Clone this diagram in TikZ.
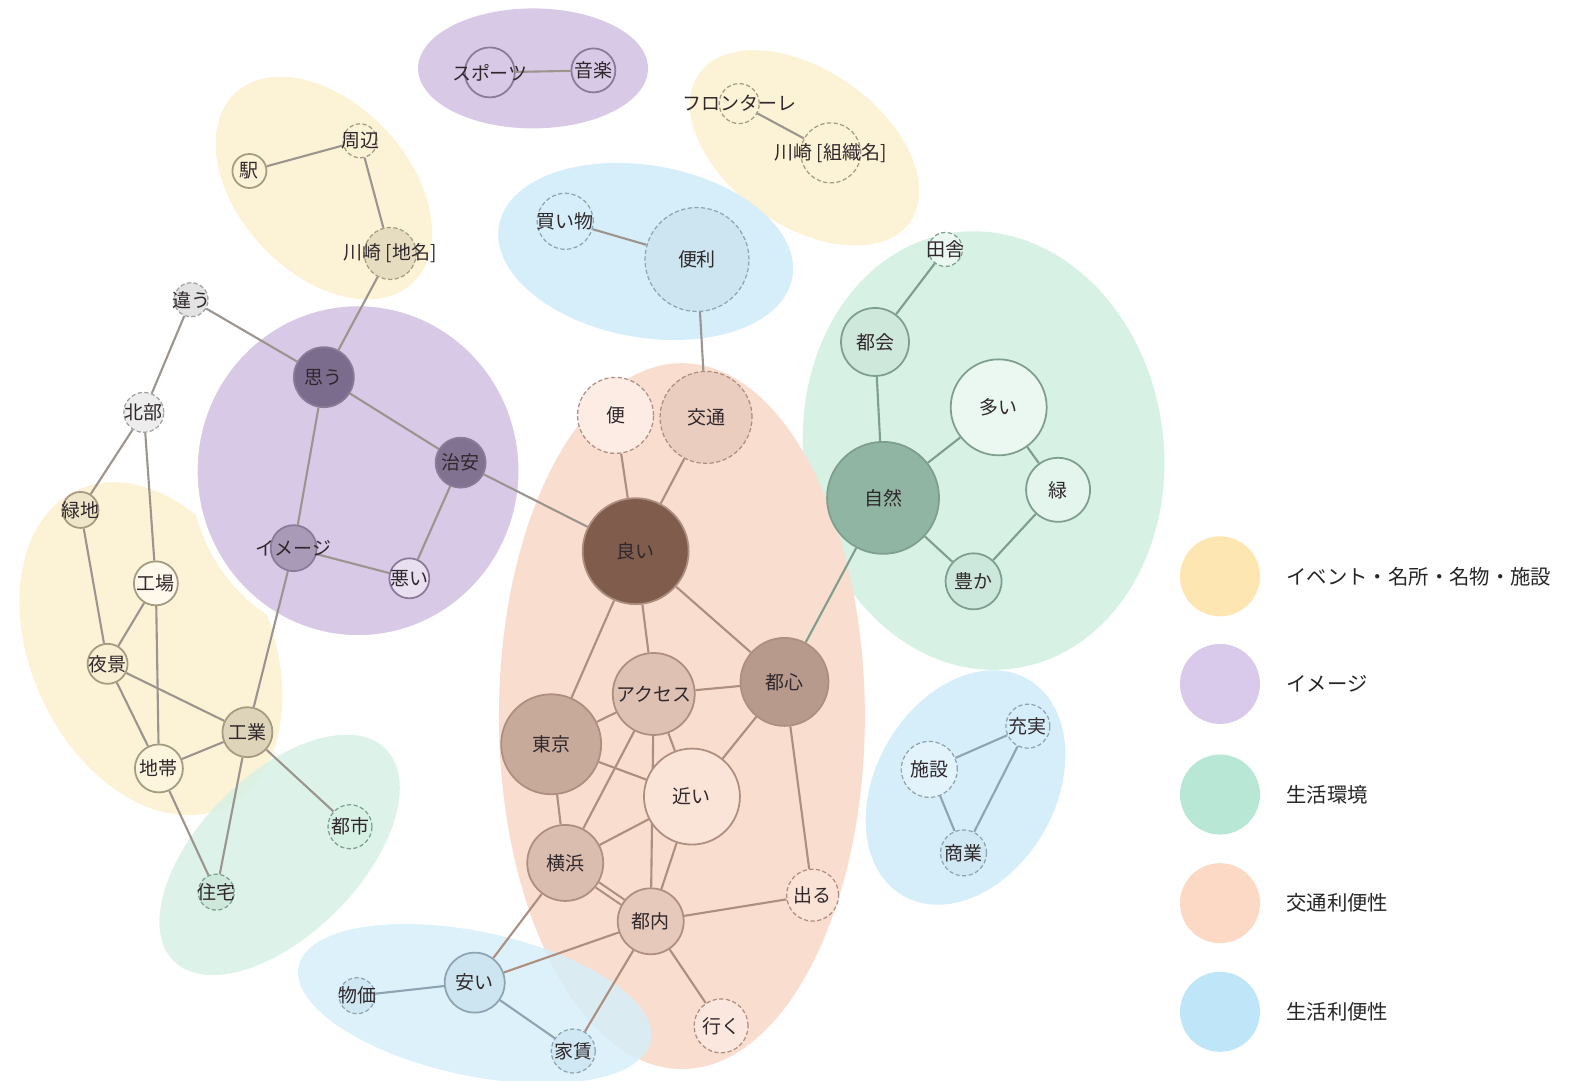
\documentclass[tikz,border=0pt]{standalone}
\usepackage{fontspec}
\setmainfont{Noto Sans CJK JP}
\usetikzlibrary{positioning}

\definecolor{blobY}{HTML}{FCF3D6}
\definecolor{blobP}{HTML}{D8CAE6}
\definecolor{blobG}{HTML}{D7F1E5}
\definecolor{blobO}{HTML}{F9DDCE}
\definecolor{blobB}{HTML}{D6EEF9}
\definecolor{legY}{HTML}{FDE6B2}
\definecolor{legP}{HTML}{D9C9EA}
\definecolor{legG}{HTML}{B8E8D5}
\definecolor{legO}{HTML}{FBD9C4}
\definecolor{legB}{HTML}{BEE6F8}
\definecolor{lineY}{HTML}{A59A82}
\definecolor{lineP}{HTML}{8A7B98}
\definecolor{lineG}{HTML}{7E9E8E}
\definecolor{lineO}{HTML}{AD8E80}
\definecolor{lineB}{HTML}{8EA4B2}
\definecolor{lineN}{HTML}{A0A0A0}
\definecolor{linkgray}{HTML}{9C948E}
\definecolor{kwink}{HTML}{30282C}
\definecolor{darkP}{HTML}{7B6B8C}
\definecolor{darkO}{HTML}{7F5C4C}
\definecolor{darkG}{HTML}{90B6A3}

\newcommand\kwfont{\fontsize{5.4pt}{6pt}\selectfont}
\newcommand\legfont{\fontsize{5.8pt}{7pt}\selectfont}

\pgfdeclarelayer{blobs}
\pgfdeclarelayer{links}
\pgfsetlayers{blobs,links,main}

\tikzset{
  kw/.style={circle, inner sep=0pt, line width=0.5pt,
    label={[font=\kwfont, text=kwink, inner sep=0pt]center:{#1}}},
  kwY/.style={kw={#1}, draw=lineY},
  kwP/.style={kw={#1}, draw=lineP},
  kwG/.style={kw={#1}, draw=lineG},
  kwO/.style={kw={#1}, draw=lineO},
  kwB/.style={kw={#1}, draw=lineB},
  kwN/.style={kw={#1}, draw=lineN},
  dashy/.style={line width=0.35pt, dash pattern=on 1.2pt off 0.7pt},
  link/.style={draw=#1, line width=0.6pt},
  link/.default=linkgray,
  legdot/.style={circle, inner sep=0pt, minimum size=8mm},
  legtext/.style={font=\legfont, text=black!85, inner sep=0pt, anchor=west}
}

\begin{document}
\begin{tikzpicture}[x=0.1006mm, y=-0.1006mm]
  \useasboundingbox (0,0) rectangle (1568,1074);

  \begin{pgfonlayer}{blobs}
    \fill[blobP] (530,68) ellipse [x radius=11.5mm, y radius=6mm];
    \fill[blobY, rotate around={-47:(322,187)}] (322,187) ellipse [x radius=13mm, y radius=8.5mm];
    \fill[blobY, rotate around={-35:(800,147)}] (800,147) ellipse [x radius=12.9mm, y radius=7.8mm];
    \fill[blobB, rotate around={-10:(642,250)}] (642,250) ellipse [x radius=14.9mm, y radius=8.6mm];
    \fill[blobG, rotate around={8:(978,448)}] (978,448) ellipse [x radius=18mm, y radius=22mm];
    \fill[blobY, rotate around={115:(150,645)}] (150,645) ellipse [x radius=17.5mm, y radius=12mm];
    \fill[blobG, opacity=0.85, rotate around={45:(278,850)}] (278,850) ellipse [x radius=15mm, y radius=8mm];
    \filldraw[fill=blobP, draw=white, line width=2pt] (356,468) ellipse [x radius=16.4mm, y radius=16.8mm];
    \fill[blobO] (678,712) ellipse [x radius=18.3mm, y radius=35.3mm];
    \fill[blobB, rotate around={60:(960,783)}] (960,783) ellipse [x radius=12.5mm, y radius=9mm];
    \fill[blobB, opacity=0.85, rotate around={-12:(472,998)}] (472,998) ellipse [x radius=18mm, y radius=7.2mm];
  \end{pgfonlayer}

  \node[kwP=スポーツ, fill=blobP, minimum size=5mm] (sports) at (487,72) {};
  \node[kwP=音楽, fill=blobP, minimum size=4.4mm] (ongaku) at (590,70) {};

  \node[kwY=フロンターレ, fill=blobY, minimum size=4mm, dashy] (frontale) at (735,103) {};
  \node[kwY={川崎 [組織名]}, fill=blobY, minimum size=6mm, dashy] (kawasakiorg) at (826,152) {};

  \node[kwB=買い物, fill=blobB, minimum size=5.6mm, dashy] (kaimono) at (562,220) {};
  \node[kwB=便利, fill=blobB!88!lineB, minimum size=10.4mm, dashy] (benri) at (693,258) {};

  \node[kwY=駅, fill=blobY, minimum size=3.4mm] (eki) at (248,170) {};
  \node[kwY=周辺, fill=blobY, minimum size=3.4mm, dashy] (shuhen) at (358,140) {};
  \node[kwY={川崎 [地名]}, fill=blobY!75!lineY, minimum size=5.2mm, dashy] (kawasakichi) at (388,252) {};

  \node[kwN=違う, fill=black!11, minimum size=3.4mm, dashy] (chigau) at (190,298) {};
  \node[kwN=北部, fill=black!7, minimum size=4mm, dashy] (hokubu) at (143,410) {};

  \node[kwP=思う, fill=darkP, minimum size=6mm] (omou) at (322,375) {};
  \node[kwP=治安, fill=darkP!95!white, minimum size=5mm] (chian) at (458,460) {};
  \node[kwP=イメージ, fill=lineP!60!blobP, minimum size=4.6mm] (image) at (292,545) {};
  \node[kwP=悪い, fill=blobP!60!white, minimum size=4mm] (warui) at (407,575) {};

  \node[kwY=緑地, fill=blobY!85!lineY, minimum size=3.6mm] (ryokuchi) at (80,507) {};
  \node[kwY=工場, fill=blobY!50!white, minimum size=4.4mm] (kojo) at (155,580) {};
  \node[kwY=夜景, fill=blobY!95!lineY, minimum size=4mm] (yakei) at (107,660) {};
  \node[kwY=工業, fill=blobY!65!lineY, minimum size=5mm] (kogyo) at (246,728) {};
  \node[kwY=地帯, fill=blobY!80!white, minimum size=4.8mm] (chitai) at (158,764) {};

  \node[kwG=都市, fill=blobG, minimum size=4.4mm, dashy] (toshi) at (348,822) {};
  \node[kwG=住宅, fill=blobG!90!lineG, minimum size=3.6mm, dashy] (jutaku) at (215,887) {};

  \node[kwO=便, fill=blobO!55!white, minimum size=7.6mm, dashy] (ben) at (612,413) {};
  \node[kwO=交通, fill=blobO!80!lineO, minimum size=9.2mm, dashy] (kotsu) at (702,415) {};
  \node[kwO=良い, fill=darkO, minimum size=10.6mm] (yoi) at (632,548) {};
  \node[kwO=アクセス, fill=blobO!65!lineO, minimum size=8.2mm] (access) at (650,690) {};
  \node[kwO=都心, fill=lineO!85!blobO, minimum size=8.8mm] (toshin) at (780,678) {};
  \node[kwO=東京, fill=lineO!65!blobO, minimum size=10mm] (tokyo) at (548,740) {};
  \node[kwO=近い, fill=blobO!80!white, minimum size=9.6mm] (chikai) at (688,792) {};
  \node[kwO=横浜, fill=blobO!60!lineO, minimum size=7.6mm] (yokohama) at (562,858) {};
  \node[kwO=都内, fill=blobO!75!lineO, minimum size=6.6mm] (tonai) at (647,916) {};
  \node[kwO=出る, fill=blobO!85!white, minimum size=5.2mm, dashy] (deru) at (808,890) {};
  \node[kwO=行く, fill=blobO!70!white, minimum size=5.4mm, dashy] (iku) at (717,1020) {};

  \node[kwG=田舎, fill=blobG!50!white, minimum size=3.4mm, dashy] (inaka) at (940,248) {};
  \node[kwG=都会, fill=blobG!90!lineG, minimum size=6.8mm] (tokai) at (870,340) {};
  \node[kwG=多い, fill=blobG!50!white, minimum size=9.6mm] (ooi) at (993,405) {};
  \node[kwG=自然, fill=darkG, minimum size=11.2mm] (shizen) at (878,495) {};
  \node[kwG=緑, fill=blobG!70!white, minimum size=6.4mm] (midori) at (1052,487) {};
  \node[kwG=豊か, fill=blobG!88!lineG, minimum size=5.6mm] (yutaka) at (968,578) {};

  \node[kwB=施設, fill=blobB!70!white, minimum size=5.6mm, dashy] (shisetsu) at (924,765) {};
  \node[kwB=充実, fill=blobB, minimum size=4.4mm, dashy] (jujitsu) at (1022,722) {};
  \node[kwB=商業, fill=blobB!92!lineB, minimum size=4.6mm, dashy] (shogyo) at (958,848) {};

  \node[kwB=物価, fill=blobB!90!lineB, minimum size=3.6mm, dashy] (bukka) at (355,990) {};
  \node[kwB=安い, fill=blobB!88!lineB, minimum size=6mm] (yasui) at (472,977) {};
  \node[kwB=家賃, fill=blobB!92!lineB, minimum size=4.4mm, dashy] (yachin) at (570,1045) {};

  \begin{pgfonlayer}{links}
    \foreach \a/\b in {sports/ongaku, frontale/kawasakiorg, kaimono/benri, benri/kotsu,
      eki/shuhen, shuhen/kawasakichi, kawasakichi/omou, chigau/omou, chigau/hokubu,
      hokubu/ryokuchi, hokubu/kojo, omou/chian, omou/image, chian/warui, image/warui,
      chian/yoi, image/kogyo, ryokuchi/yakei, kojo/yakei, kojo/chitai, yakei/chitai,
      yakei/kogyo, chitai/kogyo, chitai/jutaku, kogyo/jutaku, kogyo/toshi}
      \draw[link] (\a) -- (\b);
    \foreach \a/\b in {ben/yoi, kotsu/yoi, yoi/tokyo, yoi/access, yoi/toshin,
      access/toshin, access/tokyo, access/yokohama, access/tonai, access/chikai,
      tokyo/chikai, tokyo/yokohama, chikai/yokohama, chikai/tonai, toshin/chikai,
      toshin/deru, yokohama/yasui, tonai/yasui, tonai/yachin, tonai/iku, tonai/deru}
      \draw[link=lineO] (\a) -- (\b);
    \draw[link=lineO, double=blobO, double distance=1.1pt] (yokohama) -- (tonai);
    \foreach \a/\b in {inaka/tokai, tokai/shizen, shizen/ooi, ooi/midori,
      midori/yutaka, shizen/yutaka, shizen/toshin}
      \draw[link=lineG] (\a) -- (\b);
    \foreach \a/\b in {shisetsu/jujitsu, shisetsu/shogyo, jujitsu/shogyo,
      yasui/bukka, yasui/yachin}
      \draw[link=lineB] (\a) -- (\b);
  \end{pgfonlayer}

  \node[legdot, fill=legY] (legY) at (1213,573) {};
  \node[legdot, fill=legP] (legP) at (1213,680) {};
  \node[legdot, fill=legG] (legG) at (1213,790) {};
  \node[legdot, fill=legO] (legO) at (1213,898) {};
  \node[legdot, fill=legB] (legB) at (1213,1006) {};
  \node[legtext, right=2.5mm of legY] (txtY) {イベント・名所・名物・施設};
  \node[legtext, right=2.5mm of legP] (txtP) {イメージ};
  \node[legtext, right=2.5mm of legG] (txtG) {生活環境};
  \node[legtext, right=2.5mm of legO] (txtO) {交通利便性};
  \node[legtext, right=2.5mm of legB] (txtB) {生活利便性};
\end{tikzpicture}
\end{document}
